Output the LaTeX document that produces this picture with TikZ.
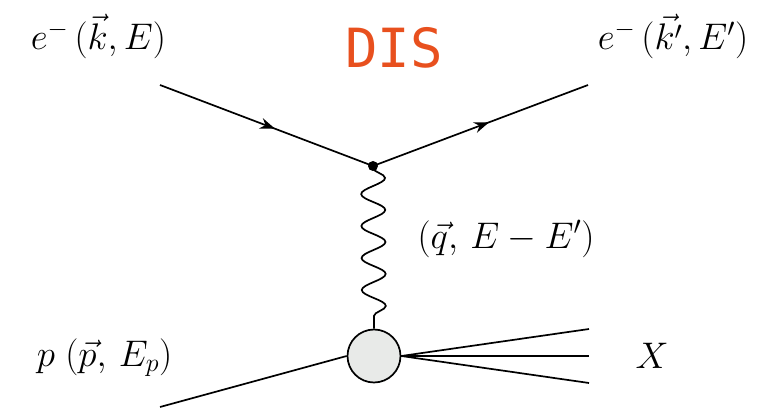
\documentclass[tikz,border=0pt]{standalone}
\usepackage{fix-cm}
\usepackage{fontspec}
\newfontfamily\disfont{DejaVu Sans Mono}
\usetikzlibrary{decorations.pathmorphing,decorations.markings,arrows.meta}
\definecolor{disorange}{HTML}{E8501E}
\definecolor{blobgrey}{HTML}{E8EAE8}
\tikzset{
  fermion/.style={line width=1.7pt, postaction={decorate},
    decoration={markings, mark=at position 0.54 with {\arrow{Stealth[length=15pt,width=11pt]}}}},
  plain/.style={line width=1.7pt},
  photon/.style={line width=1.7pt, decorate, decoration={snake, amplitude=12pt, segment length=32pt, pre length=2pt, post length=2pt}},
  lbl/.style={font=\fontsize{37}{42}\selectfont, inner sep=0pt, anchor=base}
}
\begin{document}
\begin{tikzpicture}[x=1pt,y=1pt]
\useasboundingbox (0,0) rectangle (766,-409);
\coordinate (ein) at (160,-85);
\coordinate (eout) at (588,-85);
\coordinate (pin) at (160,-407);
\coordinate (x1) at (589,-329);
\coordinate (x2) at (589,-356);
\coordinate (x3) at (589,-383);
\node[circle, fill=black, inner sep=0pt, minimum size=10pt] (v) at (373,-166) {};
\node[circle, draw, line width=1.7pt, fill=blobgrey, minimum size=53pt, inner sep=0pt] (blob) at (374,-356) {};
\draw[fermion] (ein) -- (v.center);
\draw[fermion] (v.center) -- (eout);
\draw[photon] (v.center) -- (blob.north);
\draw[plain] (pin) -- (blob.west);
\draw[plain] (blob.east) -- (x1);
\draw[plain] (blob.east) -- (x2);
\draw[plain] (blob.east) -- (x3);
\node[lbl] (l1) at (98.5,-50) {$e^{-}\,(\vec{k},E)$};
\node[lbl] (l2) at (673,-50) {$e^{-}\,(\vec{k'},E')$};
\node[lbl] (l3) at (506,-248) {$(\vec{q},\,E-E')$};
\node[lbl] (l4) at (104.5,-366) {$p\;(\vec{p},\,E_p)$};
\node[lbl] (l5) at (652,-368) {$X$};
\node[font=\disfont\fontsize{54}{58}\selectfont, text=disorange, inner sep=0pt, anchor=base] (dis) at (394,-68) {DIS};
\end{tikzpicture}
\end{document}
